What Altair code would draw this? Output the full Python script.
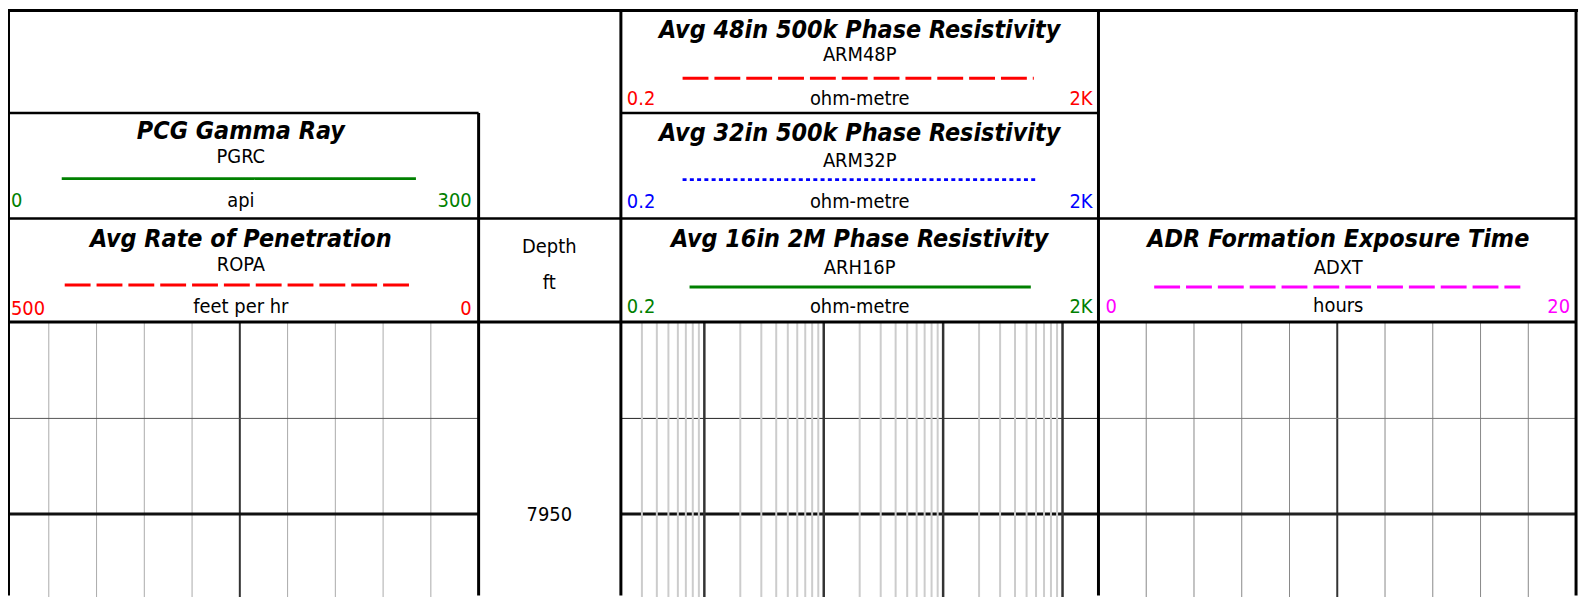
import altair as alt
import pandas as pd

# ---------------- data ----------------
CURVE_TITLES = [
    "PCG Gamma Ray",
    "Avg Rate of Penetration",
    "Avg 48in 500k Phase Resistivity",
    "Avg 32in 500k Phase Resistivity",
    "Avg 16in 2M Phase Resistivity",
    "ADR Formation Exposure Time",
]
CURVE_MNEMONICS = ["PGRC", "ROPA", "ARM48P", "ARM32P", "ARH16P", "ADXT"]
CURVE_UNITS = ["api", "feet per hr", "ohm-metre", "ohm-metre", "ohm-metre", "hours"]
SCALE_LEFT = ["0", "500", "0.2", "0.2", "0.2", "0"]
SCALE_RIGHT = ["300", "0", "2K", "2K", "2K", "20"]
CURVE_COLORS = ["#008000", "#ff0000", "#ff0000", "#0000ff", "#008000", "#ff00ff"]
CURVE_DASH = ["solid", "dash", "dash", "dot", "solid", "dash"]

DEPTH_HEADER = ["Depth", "ft"]
DEPTH_TOP, DEPTH_BOTTOM = 7930, 7960
DEPTH_GRID = [7940, 7950, 7960]
DEPTH_MAJOR = [7950]
DEPTH_LABELS = [7950]

GR_DOMAIN = [0, 300]
GR_GRID = [30, 60, 90, 120, 180, 210, 240, 270]
GR_MAJOR = [150]

RES_DOMAIN = [0.2, 2000]
RES_MINOR = [0.3, 0.4, 0.5, 0.6, 0.7, 0.8, 0.9,
             2, 3, 4, 5, 6, 7, 8, 9,
             20, 30, 40, 50, 60, 70, 80, 90,
             200, 300, 400, 500, 600, 700, 800, 900]
RES_MAJOR = [1, 10, 100, 1000]

ADXT_DOMAIN = [0, 20]
ADXT_GRID = [2, 4, 6, 8, 12, 14, 16, 18]
ADXT_MAJOR = [10]

# ---------------- layout (pixels) ----------------
W, H = 1586, 589
FONT = "DejaVu Sans Condensed, DejaVu Sans, sans-serif"
TITLE_SIZE = 25
TEXT_SIZE = 20

BOX_CX = [234, 234, 856, 856, 856, 1337]
TITLE_Y = [130, 239, 29, 132, 239, 239]
MNEM_Y = [154, 263, 52, 158, 266, 266]
LINE_Y = [170, 277, 69, 171, 279, 279]
LINE_X1 = [54, 57, 678, 678, 685, 1152]
LINE_X2 = [410, 408, 1031, 1034, 1028, 1520]
UNIT_Y = [199, 305, 96, 200, 305, 304]
LABEL_Y = [199, 307, 96, 200, 305, 305]
LABEL_LX = [3, 3, 622, 622, 622, 1103]
LABEL_RX = [466, 466, 1090, 1090, 1090, 1570]

depth_scale = alt.Scale(domain=[DEPTH_TOP, DEPTH_BOTTOM], range=[315, 603], nice=False, zero=False)
gr_scale = alt.Scale(domain=GR_DOMAIN, range=[-7, 473], nice=False, zero=False)
res_scale = alt.Scale(type="log", domain=RES_DOMAIN, range=[616, 1096], nice=False)
adxt_scale = alt.Scale(domain=ADXT_DOMAIN, range=[1096, 1576], nice=False, zero=False)

layers = []


def vlines(values, scale, color, width):
    df = pd.DataFrame({"v": values})
    return alt.Chart(df).mark_rule(color=color, strokeWidth=width).encode(
        x=alt.X("v:Q", scale=scale, axis=None),
        y=alt.Y(datum=DEPTH_TOP, type="quantitative", scale=depth_scale, axis=None),
        y2=alt.Y2(datum=DEPTH_BOTTOM),
    )


def hlines(values, scale, dom, color, width):
    df = pd.DataFrame({"d": values})
    return alt.Chart(df).mark_rule(color=color, strokeWidth=width).encode(
        x=alt.X(datum=dom[0], type="quantitative", scale=scale, axis=None),
        x2=alt.X2(datum=dom[1]),
        y=alt.Y("d:Q", scale=depth_scale, axis=None),
    )


thin_depth = [d for d in DEPTH_GRID if d not in DEPTH_MAJOR]

# left track
layers += [
    vlines(GR_GRID, gr_scale, "#aaaaaa", 1),
    vlines(GR_MAJOR, gr_scale, "#333333", 2),
    hlines(thin_depth, gr_scale, GR_DOMAIN, "#555555", 1),
    hlines(DEPTH_MAJOR, gr_scale, GR_DOMAIN, "#111111", 3),
]
# resistivity track (gridlines drawn over the depth lines)
layers += [
    hlines(thin_depth, res_scale, RES_DOMAIN, "#222222", 1),
    hlines(DEPTH_MAJOR, res_scale, RES_DOMAIN, "#111111", 3),
    vlines(RES_MINOR, res_scale, "#cccccc", 2),
    vlines(RES_MAJOR, res_scale, "#333333", 2.5),
]
# right track
layers += [
    vlines(ADXT_GRID, adxt_scale, "#888888", 1),
    vlines(ADXT_MAJOR, adxt_scale, "#333333", 2),
    hlines(thin_depth, adxt_scale, ADXT_DOMAIN, "#777777", 1),
    hlines(DEPTH_MAJOR, adxt_scale, ADXT_DOMAIN, "#222222", 3),
]

# depth labels
layers.append(
    alt.Chart(pd.DataFrame({"d": DEPTH_LABELS})).mark_text(
        font=FONT, fontSize=TEXT_SIZE, color="#000000", align="center", baseline="middle", dy=1
    ).encode(
        x=alt.value(544),
        y=alt.Y("d:Q", scale=depth_scale, axis=None),
        text=alt.Text("d:Q", format="d"),
    )
)

# header borders
borders = pd.DataFrame({
    "x": [0, 1, 473, 616, 1096, 1576, 1, 616, 1, 1],
    "x2": [1578, 1, 473, 616, 1096, 1576, 473, 1096, 1576, 1576],
    "y": [1, 0, 104, 1, 1, 1, 104, 104, 210, 314],
    "y2": [1, 589, 589, 589, 589, 589, 104, 104, 210, 314],
    "w": [3, 2, 3, 3, 3, 3, 2.5, 2.5, 2.5, 3],
})
layers.append(
    alt.Chart(borders).mark_rule(color="#000000").encode(
        x=alt.X("x:Q", scale=None, axis=None),
        x2="x2:Q",
        y=alt.Y("y:Q", scale=None, axis=None),
        y2="y2:Q",
        strokeWidth=alt.StrokeWidth("w:Q", scale=None, legend=None),
    )
)

hdr = pd.DataFrame({
    "title": CURVE_TITLES, "mnem": CURVE_MNEMONICS, "unit": CURVE_UNITS,
    "left": SCALE_LEFT, "right": SCALE_RIGHT, "color": CURVE_COLORS, "dash": CURVE_DASH,
    "cx": BOX_CX, "ty": TITLE_Y, "my": MNEM_Y, "ly": LINE_Y, "lx1": LINE_X1, "lx2": LINE_X2,
    "uy": UNIT_Y, "sy": LABEL_Y, "slx": LABEL_LX, "srx": LABEL_RX,
})

# sample lines
layers.append(
    alt.Chart(hdr).mark_rule(strokeWidth=3).encode(
        x=alt.X("lx1:Q", scale=None, axis=None),
        x2="lx2:Q",
        y=alt.Y("ly:Q", scale=None, axis=None),
        color=alt.Color("color:N", scale=None),
        strokeDash=alt.StrokeDash(
            "dash:N",
            scale=alt.Scale(domain=["solid", "dash", "dot"], range=[[1, 0], [26, 6], [4, 3.3]]),
            legend=None,
        ),
    )
)

base = alt.Chart(hdr)
layers += [
    base.mark_text(font=FONT, fontSize=TITLE_SIZE, fontWeight="bold", fontStyle="italic",
                   align="center", baseline="alphabetic", color="#000000").encode(
        x=alt.X("cx:Q", scale=None, axis=None), y=alt.Y("ty:Q", scale=None, axis=None), text="title:N"),
    base.mark_text(font=FONT, fontSize=TEXT_SIZE, align="center", baseline="alphabetic",
                   color="#000000").encode(
        x=alt.X("cx:Q", scale=None, axis=None), y=alt.Y("my:Q", scale=None, axis=None), text="mnem:N"),
    base.mark_text(font=FONT, fontSize=TEXT_SIZE, align="center", baseline="alphabetic",
                   color="#000000").encode(
        x=alt.X("cx:Q", scale=None, axis=None), y=alt.Y("uy:Q", scale=None, axis=None), text="unit:N"),
    base.mark_text(font=FONT, fontSize=TEXT_SIZE, align="left", baseline="alphabetic").encode(
        x=alt.X("slx:Q", scale=None, axis=None), y=alt.Y("sy:Q", scale=None, axis=None), text="left:N",
        color=alt.Color("color:N", scale=None)),
    base.mark_text(font=FONT, fontSize=TEXT_SIZE, align="right", baseline="alphabetic").encode(
        x=alt.X("srx:Q", scale=None, axis=None), y=alt.Y("sy:Q", scale=None, axis=None), text="right:N",
        color=alt.Color("color:N", scale=None)),
]

depth_hdr = pd.DataFrame({"t": DEPTH_HEADER, "y": [245, 281]})
layers.append(
    alt.Chart(depth_hdr).mark_text(font=FONT, fontSize=TEXT_SIZE, align="center",
                                   baseline="alphabetic", color="#000000").encode(
        x=alt.value(544), y=alt.Y("y:Q", scale=None, axis=None), text="t:N")
)

chart = alt.layer(*layers).resolve_scale(
    x="independent", y="independent", color="independent", strokeDash="independent"
).properties(
    width=W, height=H, padding=0, autosize="none", background="#ffffff"
).configure_view(stroke=None)

chart.save("out.html", embed_options={"renderer": "svg", "actions": False})
